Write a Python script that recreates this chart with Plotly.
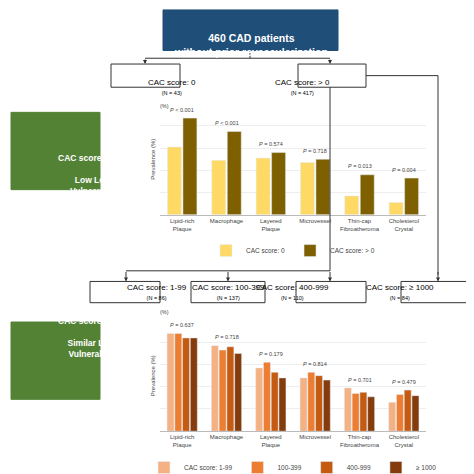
import plotly.graph_objects as go

cats = ["Lipid-rich<br>Plaque", "Macrophage", "Layered<br>Plaque", "Microvessel", "Thin-cap<br>Fibroatheroma", "Cholesterol<br>Crystal"]
top_zero = [61, 49, 51, 47, 17, 11]
top_pos = [87, 75, 56, 50, 36, 33]
top_p = ["<i>P</i> < 0.001", "<i>P</i> < 0.001", "<i>P</i> = 0.574", "<i>P</i> = 0.718", "<i>P</i> = 0.013", "<i>P</i> = 0.004"]
bot_names = ["CAC score: 1-99", "100-399", "400-999", "≥ 1000"]
bot_vals = [
    [88, 77, 57, 48, 39, 26],
    [88, 73, 62, 53, 34, 33],
    [84, 76, 53, 50, 35, 37],
    [84, 70, 48, 46, 31, 32],
]
bot_p = ["<i>P</i> = 0.637", "<i>P</i> = 0.718", "<i>P</i> = 0.179", "<i>P</i> = 0.814", "<i>P</i> = 0.701", "<i>P</i> = 0.479"]
top_colors = ["#ffd966", "#7f6000"]
bot_colors = ["#f4b183", "#ed7d31", "#c55a11", "#843c0c"]

W = 474.0
def px(x): return x / W
def py(y): return 1 - y / W

fig = go.Figure()
fig.add_bar(x=cats, y=top_zero, name="CAC score: 0", marker_color=top_colors[0], xaxis="x", yaxis="y", legend="legend")
fig.add_bar(x=cats, y=top_pos, name="CAC score: > 0", marker_color=top_colors[1], xaxis="x", yaxis="y", legend="legend")
for n, v, c in zip(bot_names, bot_vals, bot_colors):
    fig.add_bar(x=cats, y=v, name=n, marker_color=c, xaxis="x2", yaxis="y2", legend="legend2")

ann = []
for c, p, a, b in zip(cats, top_p, top_zero, top_pos):
    ann.append(dict(x=c, y=max(a, b) + 3, xref="x", yref="y", text=p, showarrow=False,
                    yanchor="bottom", font=dict(size=5.5, color="#444")))
for i, (c, p) in enumerate(zip(cats, bot_p)):
    m = max(v[i] for v in bot_vals)
    ann.append(dict(x=c, y=m + 3, xref="x2", yref="y2", text=p, showarrow=False,
                    yanchor="bottom", font=dict(size=5.5, color="#444")))
for yy in (96, 320):
    ann.append(dict(x=px(150), y=py(yy), xref="paper", yref="paper", text="(%)", showarrow=False,
                    xanchor="left", font=dict(size=5.5, color="#444")))

shapes = []
def box(x0, y0, x1, y1, t1, t2=None, fill="white", line="#333", fc="black", size=8, bold=False):
    shapes.append(dict(type="rect", xref="paper", yref="paper", x0=px(x0), x1=px(x1), y0=py(y1), y1=py(y0),
                       fillcolor=fill, line=dict(color=line, width=1)))
    txt = f"<b>{t1}</b>" if bold else t1
    if t2:
        txt += f"<br><span style='font-size:5.5px'>{t2}</span>"
    ann.append(dict(x=px((x0 + x1) / 2), y=py((y0 + y1) / 2), xref="paper", yref="paper", text=txt,
                    showarrow=False, font=dict(size=size, color=fc)))

def line(x0, y0, x1, y1):
    shapes.append(dict(type="line", xref="paper", yref="paper", x0=px(x0), x1=px(x1), y0=py(y0), y1=py(y1),
                       line=dict(color="#333", width=1)))

def arrow(x, y0, y1):
    ann.append(dict(x=px(x), y=py(y1), ax=0, ay=-(y1 - y0), xref="paper", yref="paper",
                    showarrow=True, arrowhead=2, arrowsize=0.8, arrowwidth=1, arrowcolor="#333", text=""))

box(155, 2, 330, 44, "460 CAD patients<br>without prior revascularization", fill="#1f4e79", line="#1f4e79", fc="white", size=10.5, bold=True)
line(242, 44, 242, 52)
line(137, 52, 322, 52)
arrow(137, 52, 58)
arrow(322, 52, 58)
box(103, 58, 172, 82, "CAC score: 0", "(N = 43)", size=8)
box(290, 58, 358, 82, "CAC score: > 0", "(N = 417)", size=8)
line(358, 70, 430, 70)
line(430, 70, 430, 276)
arrow(430, 272, 283)
line(322, 82, 322, 272)
line(118, 272, 322, 272)
for x in (118, 220, 322):
    arrow(x, 272, 283)
box(82, 283, 152, 305, "CAC score: 1-99", "(N = 86)", size=8)
box(183, 283, 257, 305, "CAC score: 100-399", "(N = 137)", size=8)
box(288, 283, 358, 305, "CAC score: 400-999", "(N = 110)", size=8)
box(393, 283, 463, 305, "CAC score: ≥ 1000", "(N = 84)", size=8)

for y0, t in ((108, "CAC score of Zero<br><br>Low Level<br>Vulnerability"), (325, "CAC score > Zero<br><br>Similar Level<br>Vulnerability")):
    shapes.append(dict(type="rect", xref="paper", yref="paper", x0=px(3), x1=px(92), y0=py(y0 + 80), y1=py(y0),
                       fillcolor="#548235", line=dict(color="#548235", width=1)))
    ann.append(dict(x=px(47.5), y=py(y0 + 40), xref="paper", yref="paper", text=f"<b>{t}</b>", showarrow=False,
                    font=dict(size=8.5, color="white")))

ax = dict(tickfont=dict(size=6, color="#444"), showline=True, linecolor="#bbb", ticks="")
ay = dict(range=[0, 100], dtick=20, showticklabels=False, gridcolor="#eee", zeroline=False,
          title=dict(text="Prevalence (%)", font=dict(size=6, color="#444"), standoff=2))
fig.update_layout(
    width=474, height=474, margin=dict(l=0, r=0, t=0, b=0), paper_bgcolor="white", plot_bgcolor="white",
    font=dict(family="Liberation Sans, Arial"), barmode="group", bargap=0.3, bargroupgap=0.1,
    xaxis=dict(domain=[px(152), px(418)], anchor="y", **ax),
    yaxis=dict(domain=[py(214), py(99)], anchor="x", **ay),
    xaxis2=dict(domain=[px(152), px(418)], anchor="y2", **ax),
    yaxis2=dict(domain=[py(438), py(323)], anchor="x2", **ay),
    legend=dict(orientation="h", x=px(285), xanchor="center", y=py(236), yanchor="top", font=dict(size=6.5, color="#444"),
                itemwidth=30, bgcolor="rgba(0,0,0,0)"),
    legend2=dict(orientation="h", x=px(285), xanchor="center", y=py(461), yanchor="top", font=dict(size=6.5, color="#444"),
                 itemwidth=30, bgcolor="rgba(0,0,0,0)"),
    shapes=shapes, annotations=ann,
)
fig.write_html("out.html")
